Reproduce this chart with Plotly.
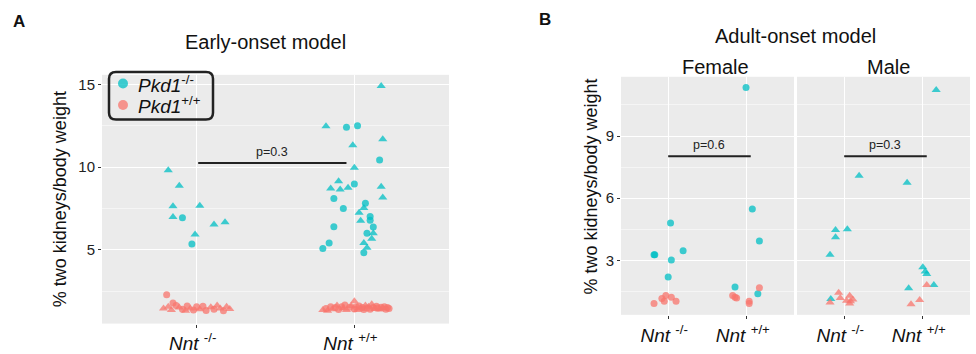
import plotly.graph_objects as go

# ---------------- data ----------------
NNT_LABELS = ["<i>Nnt</i> <sup>-/-</sup>", "<i>Nnt</i> <sup>+/+</sup>"]
PKD_LABELS = ["<i>Pkd1</i><sup>-/-</sup>", "<i>Pkd1</i><sup>+/+</sup>"]

# Panel A (early-onset)  -- Pkd1-/- (cyan)
A_KO_N1_VAL = [9.82, 8.88, 7.63, 7.67, 6.98, 6.53, 6.67, 5.92, 6.94, 5.35]
A_KO_N1_JIT = [-0.18, -0.11, -0.15, 0.02, -0.15, 0.11, 0.18, -0.01, -0.09, -0.03]
A_KO_N1_SEX = ["M", "M", "M", "M", "M", "M", "M", "M", "F", "F"]

A_KO_N2_VAL = [14.92, 12.47, 11.69, 11.33, 9.96, 9.14, 8.71, 8.65, 8.75, 8.82, 8.16, 7.53, 7.24, 6.75, 6.00, 5.66, 5.41, 5.12,
               12.41, 12.51, 10.43, 8.98, 8.10, 7.82, 7.49, 7.02, 6.78, 6.39, 6.37, 6.00, 5.41, 5.08, 4.82]
A_KO_N2_JIT = [0.17, -0.18, 0.18, -0.01, 0.00, -0.10, -0.15, -0.09, -0.04, 0.17, 0.18, 0.06, 0.03, 0.04, 0.12, 0.11, 0.06, 0.08,
               -0.05, 0.02, 0.16, 0.00, -0.13, 0.07, -0.07, 0.10, 0.10, -0.13, 0.12, 0.08, -0.16, -0.20, 0.06]
A_KO_N2_SEX = ["M"] * 18 + ["F"] * 15

# Panel A -- Pkd1+/+ (red)
A_WT_N1_VAL = [2.27, 1.45, 1.55, 1.78, 1.62, 1.35, 1.50, 1.40, 1.30, 1.60, 1.45, 1.35, 1.55, 1.40, 1.58, 1.32, 1.52,
               1.40, 1.62, 1.45, 1.30, 1.55, 1.42]
A_WT_N1_JIT = [-0.19, -0.21, -0.18, -0.15, -0.13, -0.16, -0.11, -0.09, -0.07, -0.06, -0.04, -0.02, 0.00, 0.02, 0.04, 0.06,
               0.09, 0.11, 0.13, 0.15, 0.17, 0.19, 0.21]
A_WT_N1_SEX = ["F", "M", "M", "F", "F", "M", "M", "F", "M", "F", "M", "F", "F", "M", "F", "F", "M", "F", "M", "M", "F", "M", "M"]

A_WT_N2_VAL = [1.35, 1.45, 1.30, 1.55, 1.40, 1.50, 1.62, 1.38, 1.55, 1.45, 1.65, 1.35, 1.52, 1.60, 1.88, 1.42, 1.55, 1.35,
               1.60, 1.45, 1.50, 1.38, 1.62, 1.48, 1.55, 1.40, 1.70, 1.50, 1.42, 1.58, 1.48, 1.38, 1.52, 1.45, 1.55,
               1.40, 1.50, 1.45]
A_WT_N2_JIT = [-0.20, -0.18, -0.17, -0.15, -0.14, -0.12, -0.11, -0.10, -0.08, -0.07, -0.06, -0.05, -0.03, -0.02, 0.00, 0.00,
               0.01, 0.02, 0.03, 0.04, 0.05, 0.06, 0.07, 0.08, 0.09, 0.10, 0.11, 0.12, 0.13, 0.14, 0.15, 0.16, 0.17,
               0.18, 0.19, 0.20, 0.21, 0.22]
A_WT_N2_SEX = ["M", "F", "M", "F", "M", "F", "M", "F", "F", "M", "F", "M", "F", "M", "M", "F", "F", "M", "F", "M", "F", "F",
               "M", "F", "M", "F", "M", "F", "M", "F", "F", "M", "F", "M", "F", "F", "F", "F"]

A_PVAL = "p=0.3"
A_BRACKET = [1.01, 1.95, 10.25]

# Panel B (adult-onset) -- Female (circles)
BF_KO_N1_VAL = [4.80, 3.28, 3.28, 3.47, 3.02, 2.20]
BF_KO_N1_JIT = [0.03, -0.18, -0.17, 0.19, 0.04, 0.00]
BF_KO_N2_VAL = [11.34, 5.48, 3.94, 1.72, 1.39]
BF_KO_N2_JIT = [-0.01, 0.07, 0.16, -0.15, 0.14]
BF_WT_N1_VAL = [1.31, 1.16, 1.03, 1.22, 1.03, 0.92]
BF_WT_N1_JIT = [-0.03, -0.08, -0.05, 0.04, 0.10, -0.18]
BF_WT_N2_VAL = [1.31, 1.22, 1.19, 1.03, 0.92, 1.68]
BF_WT_N2_JIT = [-0.18, -0.15, -0.13, 0.03, 0.03, 0.16]

# Panel B -- Male (triangles)
BM_KO_N1_VAL = [7.09, 4.47, 4.51, 4.12, 3.27, 1.14]
BM_KO_N1_JIT = [0.19, -0.11, 0.04, -0.11, -0.18, -0.17]
BM_KO_N2_VAL = [11.22, 6.75, 2.67, 2.47, 2.34, 1.81, 1.66]
BM_KO_N2_JIT = [0.17, -0.20, 0.00, 0.03, 0.05, 0.14, -0.18]
BM_WT_N1_VAL = [1.44, 1.19, 1.30, 1.11, 1.06, 0.92, 0.97, 1.03]
BM_WT_N1_JIT = [-0.07, -0.05, 0.07, 0.11, 0.03, 0.07, -0.18, 0.08]
BM_WT_N2_VAL = [1.81, 1.09, 0.89]
BM_WT_N2_JIT = [0.05, -0.04, -0.15]

B_PVALS = ["p=0.6", "p=0.3"]
B_BRACKET = [1.0, 2.05, 8.03]

# ---------------- style ----------------
CYAN = "#00BFC4"
RED = "#F8766D"
FONT = "Liberation Sans, Arial, sans-serif"
PANEL_BG = "#EBEBEB"
W, H = 976, 354

fig = go.Figure()


def add_points(vals, jit, nnt_pos, sexes, color, xa, ya):
    for sex, sym, size in (("F", "circle", 7), ("M", "triangle-up", 8)):
        xs = [nnt_pos + j for j, s in zip(jit, sexes) if s == sex]
        ys = [v for v, s in zip(vals, sexes) if s == sex]
        if not xs:
            continue
        fig.add_trace(go.Scatter(
            x=xs, y=ys, mode="markers", xaxis=xa, yaxis=ya, showlegend=False,
            marker=dict(color=color, symbol=sym, size=size, opacity=0.75, line=dict(width=0)),
            hoverinfo="skip"))


# Panel A
add_points(A_KO_N1_VAL, A_KO_N1_JIT, 1, A_KO_N1_SEX, CYAN, "x", "y")
add_points(A_KO_N2_VAL, A_KO_N2_JIT, 2, A_KO_N2_SEX, CYAN, "x", "y")
add_points(A_WT_N1_VAL, A_WT_N1_JIT, 1, A_WT_N1_SEX, RED, "x", "y")
add_points(A_WT_N2_VAL, A_WT_N2_JIT, 2, A_WT_N2_SEX, RED, "x", "y")

# Panel B female
add_points(BF_KO_N1_VAL, BF_KO_N1_JIT, 1, ["F"] * len(BF_KO_N1_VAL), CYAN, "x2", "y2")
add_points(BF_KO_N2_VAL, BF_KO_N2_JIT, 2, ["F"] * len(BF_KO_N2_VAL), CYAN, "x2", "y2")
add_points(BF_WT_N1_VAL, BF_WT_N1_JIT, 1, ["F"] * len(BF_WT_N1_VAL), RED, "x2", "y2")
add_points(BF_WT_N2_VAL, BF_WT_N2_JIT, 2, ["F"] * len(BF_WT_N2_VAL), RED, "x2", "y2")

# Panel B male
add_points(BM_KO_N1_VAL, BM_KO_N1_JIT, 1, ["M"] * len(BM_KO_N1_VAL), CYAN, "x3", "y3")
add_points(BM_KO_N2_VAL, BM_KO_N2_JIT, 2, ["M"] * len(BM_KO_N2_VAL), CYAN, "x3", "y3")
add_points(BM_WT_N1_VAL, BM_WT_N1_JIT, 1, ["M"] * len(BM_WT_N1_VAL), RED, "x3", "y3")
add_points(BM_WT_N2_VAL, BM_WT_N2_JIT, 2, ["M"] * len(BM_WT_N2_VAL), RED, "x3", "y3")

# significance brackets
brackets = [(A_BRACKET, A_PVAL, "x", "y"),
            (B_BRACKET, B_PVALS[0], "x2", "y2"),
            (B_BRACKET, B_PVALS[1], "x3", "y3")]
for (bx0, bx1, yv), txt, xa, ya in brackets:
    fig.add_trace(go.Scatter(x=[bx0, bx1], y=[yv, yv], mode="lines", xaxis=xa, yaxis=ya, showlegend=False,
                             line=dict(color="#222222", width=2), hoverinfo="skip"))
    fig.add_annotation(x=(bx0 + bx1) / 2, y=yv, xref=xa, yref=ya, text=txt, showarrow=False,
                       yanchor="bottom", yshift=2, font=dict(family=FONT, size=12.5, color="#222222"))


# domains from pixels
def xd(a, b):
    return [a / W, b / W]


def yd(top, bottom):
    return [1 - bottom / H, 1 - top / H]


common_x = dict(tickvals=[1, 2], ticktext=NNT_LABELS, range=[0.4, 2.6], showgrid=True, gridcolor="white",
                gridwidth=1.2, zeroline=False, ticks="outside", ticklen=3, tickcolor="#333333",
                tickfont=dict(family=FONT, size=19, color="#111111"), showline=False, fixedrange=True,
                ticklabelshift=-4)
minor_common = dict(showgrid=True, gridcolor="#F5F5F5", gridwidth=0.6, ticks="")
fig.update_layout(
    width=W, height=H, margin=dict(l=0, r=0, t=0, b=0),
    paper_bgcolor="white", plot_bgcolor=PANEL_BG,
    font=dict(family=FONT),
    showlegend=False,
    xaxis=dict(domain=xd(102, 449), anchor="y", **common_x),
    xaxis2=dict(domain=xd(621, 794), anchor="y2", **common_x),
    xaxis3=dict(domain=xd(797, 970), anchor="y3", **common_x),
    yaxis=dict(domain=yd(77, 333), anchor="x", range=[0.53, 15.59], tickvals=[5, 10, 15],
               showgrid=True, gridcolor="white", gridwidth=1.2, zeroline=False,
               minor=dict(tickvals=[2.5, 7.5, 12.5], **minor_common),
               ticks="outside", ticklen=3, tickcolor="#333333",
               tickfont=dict(family=FONT, size=15, color="#222222")),
    yaxis2=dict(domain=yd(79, 324), anchor="x2", range=[0.375, 11.86], tickvals=[3, 6, 9],
                showgrid=True, gridcolor="white", gridwidth=1.2, zeroline=False,
                minor=dict(tickvals=[1.5, 4.5, 7.5, 10.5], **minor_common),
                ticks="outside", ticklen=3, tickcolor="#333333",
                tickfont=dict(family=FONT, size=15, color="#222222")),
    yaxis3=dict(domain=yd(79, 324), anchor="x3", range=[0.375, 11.86], tickvals=[3, 6, 9],
                showgrid=True, gridcolor="white", gridwidth=1.2, zeroline=False,
                minor=dict(tickvals=[1.5, 4.5, 7.5, 10.5], **minor_common),
                showticklabels=False, ticks=""),
)

# legend: rounded border, keys and labels
lx0, lx1 = 109 / W, 213 / W
ly0, ly1 = 1 - 123 / H, 1 - 74 / H
rx, ry = 7 / W, 7 / H
path = (f"M {lx0+rx},{ly1} L {lx1-rx},{ly1} Q {lx1},{ly1} {lx1},{ly1-ry} L {lx1},{ly0+ry} Q {lx1},{ly0} {lx1-rx},{ly0} "
        f"L {lx0+rx},{ly0} Q {lx0},{ly0} {lx0},{ly0+ry} L {lx0},{ly1-ry} Q {lx0},{ly1} {lx0+rx},{ly1} Z")
fig.add_shape(type="path", path=path, xref="paper", yref="paper", line=dict(color="#222222", width=2.5))
for i, (lab, col) in enumerate(zip(PKD_LABELS, [CYAN, RED])):
    cy = 1 - (86 + 22 * i) / H
    fig.add_shape(type="circle", xref="paper", yref="paper", xsizemode="pixel", ysizemode="pixel",
                  xanchor=123 / W, yanchor=cy, x0=-5, x1=5, y0=-5, y1=5,
                  fillcolor=col, opacity=0.75, line=dict(width=0))
    fig.add_annotation(x=136 / W, y=cy, xref="paper", yref="paper", text=lab, showarrow=False,
                       xanchor="left", yanchor="middle", font=dict(family=FONT, size=19, color="#111111"))


# texts
def ann(x, y, text, size, bold=False, angle=0, color="#111111"):
    fig.add_annotation(x=x / W, y=1 - y / H, xref="paper", yref="paper", text=(f"<b>{text}</b>" if bold else text),
                       showarrow=False, textangle=angle, xanchor="center", yanchor="middle",
                       font=dict(family=FONT, size=size, color=color))


ann(19, 22, "A", 17, bold=True)
ann(545, 20, "B", 17, bold=True)
ann(265, 43, "Early-onset model", 20)
ann(795, 37, "Adult-onset model", 20)
ann(715, 69, "Female", 20)
ann(888, 69, "Male", 20)
ann(60, 205, "% two kidneys/body weight", 18, angle=-90)
ann(591, 192, "% two kidneys/body weight", 18, angle=-90)

fig.write_html("out.html", config={"displayModeBar": False},
               post_script="document.body.style.margin='0px';document.body.style.overflow='hidden';")
